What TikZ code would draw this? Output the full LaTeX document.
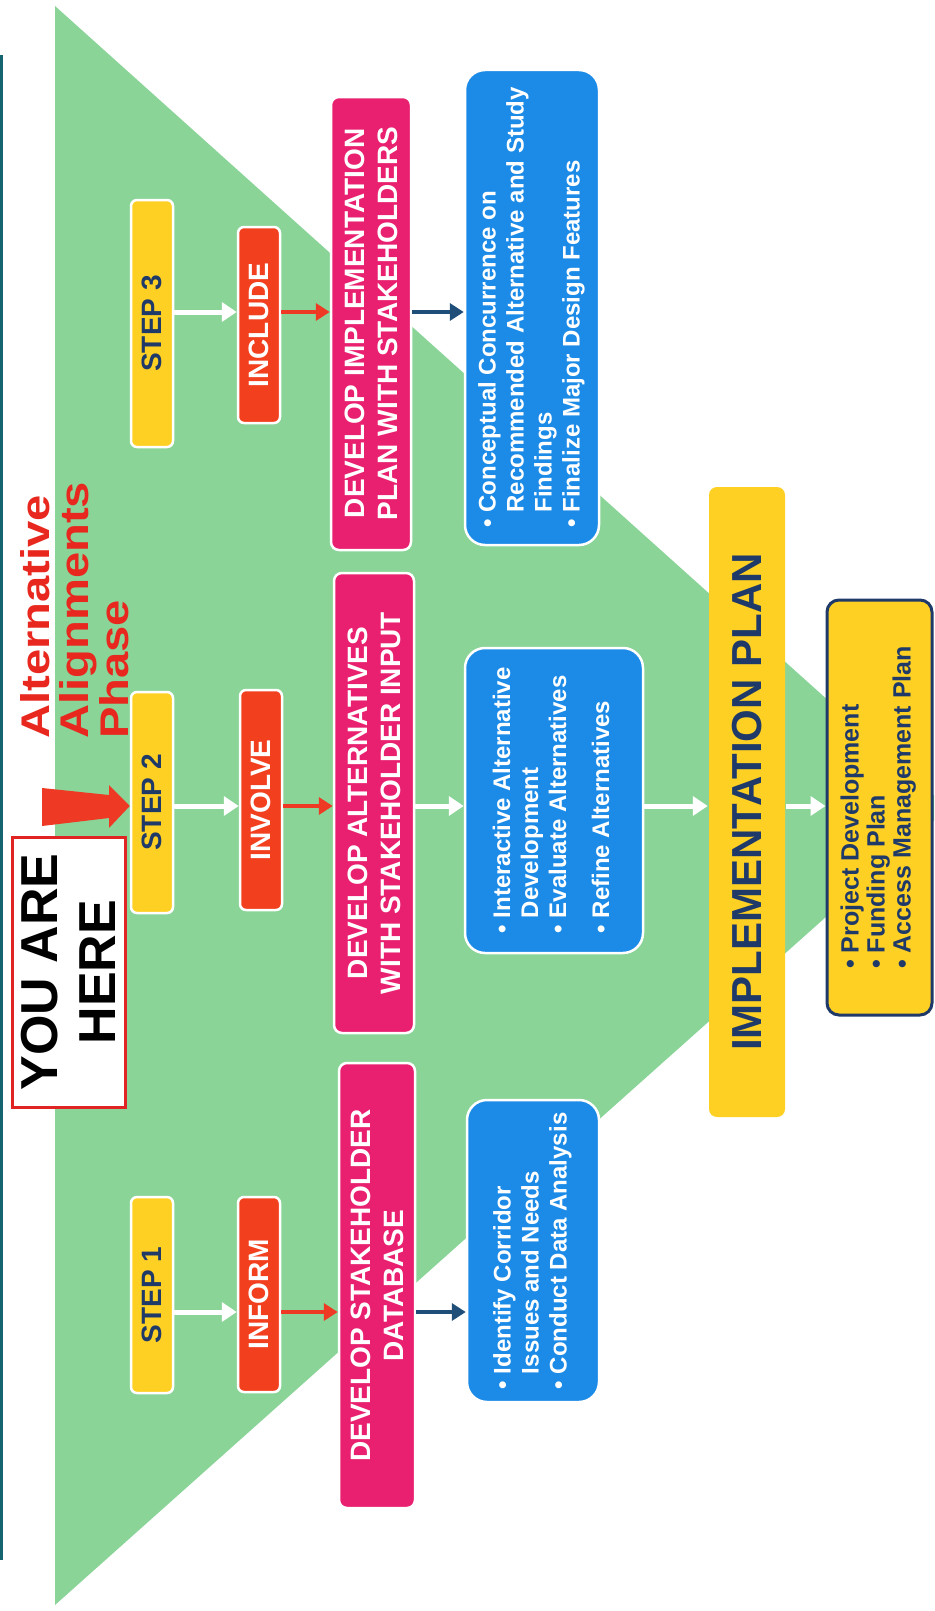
\documentclass[tikz,border=0pt]{standalone}
\usepackage{fontspec}
\usepackage{graphicx}
\setmainfont{Liberation Sans}
\usetikzlibrary{arrows.meta}
\definecolor{greenbg}{RGB}{138,212,152}
\definecolor{stepyellow}{RGB}{255,208,36}
\definecolor{boxred}{RGB}{242,64,31}
\definecolor{boxpink}{RGB}{233,32,112}
\definecolor{boxblue}{RGB}{28,139,232}
\definecolor{navytext}{RGB}{31,58,104}
\definecolor{arrowred}{RGB}{238,58,36}
\definecolor{arrownavy}{RGB}{31,78,121}
\definecolor{tealline}{RGB}{21,101,112}
\definecolor{herered}{RGB}{224,36,36}
\definecolor{phasered}{RGB}{232,40,30}
\begin{document}
\begin{tikzpicture}[x=1pt,y=-1pt,
  box/.style={rotate=90, draw=white, line width=2.5pt, inner sep=0pt, align=center},
  stepbox/.style={box, fill=stepyellow, text=navytext, rounded corners=6pt,
    font=\bfseries\fontsize{28}{32}\selectfont},
  redbox/.style={box, fill=boxred, text=white, rounded corners=6pt,
    font=\bfseries\fontsize{28}{32}\selectfont},
  pinkbox/.style={box, fill=boxpink, text=white, rounded corners=8pt,
    font=\bfseries\fontsize{28}{33}\selectfont},
  bluebox/.style={box, fill=boxblue, text=white, rounded corners=20pt,
    font=\bfseries\fontsize{24}{28}\selectfont},
  implbox/.style={box, draw=none, fill=stepyellow, text=navytext, rounded corners=8pt,
    font=\bfseries\fontsize{42}{46}\selectfont},
  projbox/.style={box, draw=navytext, line width=3pt, fill=stepyellow, text=navytext, rounded corners=12pt,
    font=\bfseries\fontsize{25}{26}\selectfont},
  herebox/.style={rotate=90, draw=herered, line width=3pt, fill=white, text=black, inner sep=0pt,
    align=center, font=\bfseries\fontsize{52}{58}\selectfont},
  phasetext/.style={rotate=90, inner sep=0pt, text=phasered,
    font=\bfseries\fontsize{40}{35}\selectfont},
  whitearrow/.style={draw=white, line width=5pt, -{Triangle[width=19pt,length=15pt]}},
  redarrow/.style={draw=arrowred, line width=3.5pt, -{Triangle[width=17pt,length=14pt]}},
  navyarrow/.style={draw=arrownavy, line width=3.5pt, -{Triangle[width=17pt,length=14pt]}}
]
\useasboundingbox (0,0) rectangle (934,1611);
\fill[white] (0,0) rectangle (934,1611);
\begin{scope}
  \clip (0,0) rectangle (934,1611);
  \fill[greenbg] (55,6) -- (55,1605) -- (948,808) -- cycle;
\end{scope}
\draw[tealline, line width=3pt] (1.5,55) -- (1.5,1560);

% row coordinates
\coordinate (r3) at (0,312);
\coordinate (r2) at (0,806);
\coordinate (r1) at (0,1312);

% step boxes
\node[stepbox, minimum width=247pt, minimum height=42pt] (step3) at (152,323.5) {STEP 3};
\node[stepbox, minimum width=221pt, minimum height=42pt] (step2) at (152,802.5) {STEP 2};
\node[stepbox, minimum width=196pt, minimum height=42pt] (step1) at (152,1295) {STEP 1};

% red boxes
\node[redbox, minimum width=196pt, minimum height=42pt] (include) at (259,325) {INCLUDE};
\node[redbox, minimum width=220pt, minimum height=42pt] (involve) at (261,800) {INVOLVE};
\node[redbox, minimum width=195pt, minimum height=42pt] (inform) at (259,1294.5) {INFORM};

% pink boxes
\node[pinkbox, minimum width=453pt, minimum height=80pt] (pink3) at (371,323.5)
  {DEVELOP IMPLEMENTATION\\PLAN WITH STAKEHOLDERS};
\node[pinkbox, minimum width=460pt, minimum height=80pt] (pink2) at (374,803)
  {DEVELOP ALTERNATIVES\\WITH STAKEHOLDER INPUT};
\node[pinkbox, minimum width=445pt, minimum height=76pt] (pink1) at (377,1285.5)
  {DEVELOP STAKEHOLDER\\DATABASE};

% blue boxes
\node[bluebox, minimum width=475pt, minimum height=134pt] (blue3) at (532,307.5)
  {\begin{tabular}{@{}l@{\hspace{7pt}}l@{}}•&Conceptual Concurrence on\\&Recommended Alternative and Study\\&Findings\\•&Finalize Major Design Features\end{tabular}};
\node[bluebox, minimum width=305pt, minimum height=178pt] (blue2) at (554,800.5)
  {\begin{tabular}{@{}l@{\hspace{7pt}}l@{}}•&Interactive Alternative\\&Development\\•&Evaluate Alternatives\\[15pt]•&Refine Alternatives\end{tabular}};
\node[bluebox, minimum width=302pt, minimum height=132pt] (blue1) at (533,1251)
  {\begin{tabular}{@{}l@{\hspace{7pt}}l@{}}•&Identify Corridor\\&Issues and Needs\\•&Conduct Data Analysis\end{tabular}};

% implementation plan
\node[implbox, minimum width=630pt, minimum height=76pt] (impl) at (747,802) {IMPLEMENTATION PLAN};
\node[projbox, minimum width=415pt, minimum height=105pt] (proj) at (879.5,807.5)
  {\begin{tabular}{@{}l@{\hspace{7pt}}l@{}}•&Project Development\\•&Funding Plan\\•&Access Management Plan\end{tabular}};

% you are here
\node[herebox, minimum width=270pt, minimum height=113pt] (here) at (68.5,972) {YOU ARE\\HERE};
\node[phasetext, anchor=north west] (phase) at (20,739)
  {\scalebox{1.18}[1]{\begin{tabular}{@{}l@{}}Alternative\\Alignments\\Phase\end{tabular}}};
\fill[arrowred] (42,788) -- (109,795) -- (109,785) -- (step2.north |- r2) -- (109,828) -- (109,818) -- (42,826) -- cycle;

% connectors
\draw[whitearrow] (step3.south |- r3) -- (include.north |- r3);
\draw[redarrow] (include.south |- r3) -- (pink3.north |- r3);
\draw[navyarrow] (pink3.south |- r3) -- (blue3.north |- r3);

\draw[whitearrow] (step2.south |- r2) -- (involve.north |- r2);
\draw[redarrow] (involve.south |- r2) -- (pink2.north |- r2);
\draw[whitearrow] (pink2.south |- r2) -- (blue2.north |- r2);
\draw[whitearrow] (blue2.south |- r2) -- (impl.north |- r2);
\draw[whitearrow] (impl.south |- r2) -- (proj.north |- r2);

\draw[whitearrow] (step1.south |- r1) -- (inform.north |- r1);
\draw[redarrow] (inform.south |- r1) -- (pink1.north |- r1);
\draw[navyarrow] (pink1.south |- r1) -- (blue1.north |- r1);
\end{tikzpicture}
\end{document}
